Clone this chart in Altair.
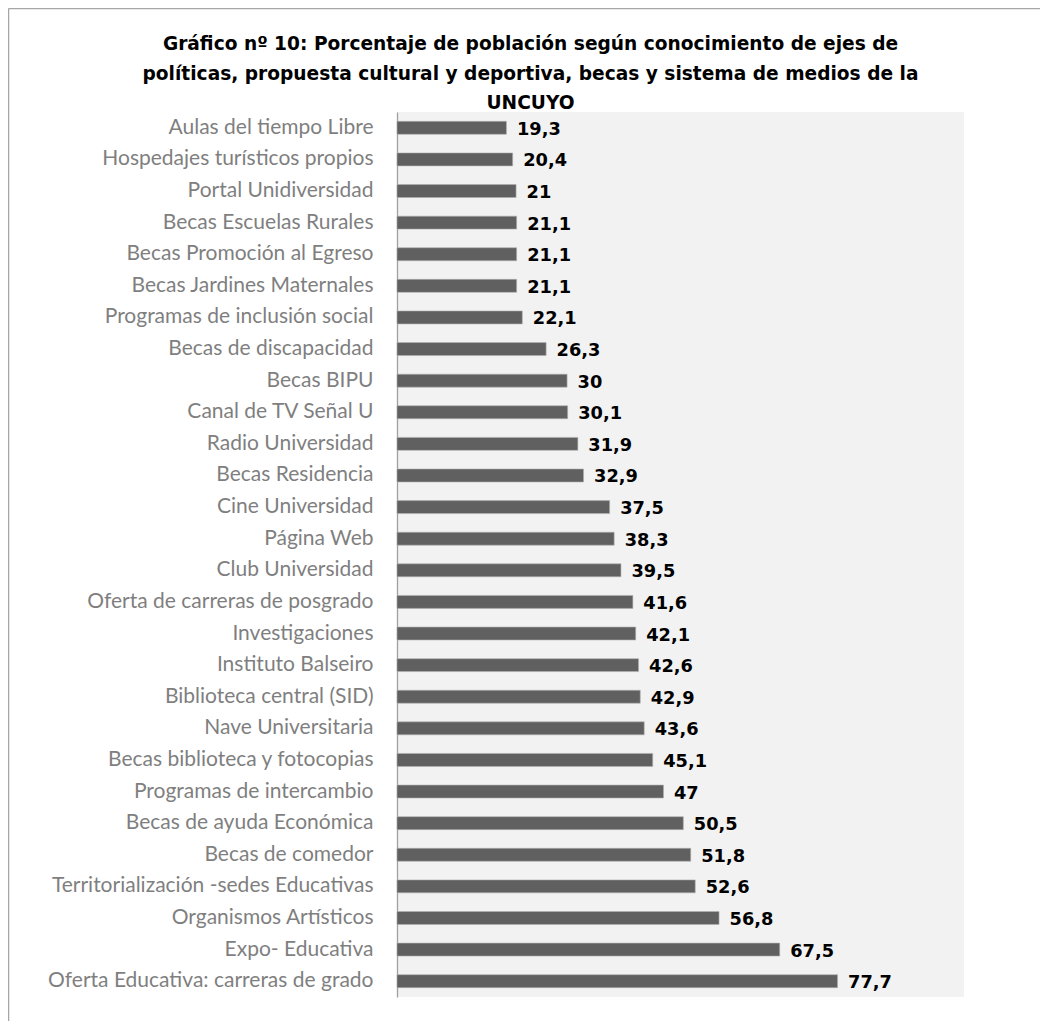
import altair as alt
import pandas as pd

categories = [
    "Aulas del tiempo Libre",
    "Hospedajes turísticos propios",
    "Portal Unidiversidad",
    "Becas Escuelas Rurales",
    "Becas  Promoción al Egreso",
    "Becas Jardines Maternales ",
    "Programas de inclusión social",
    "Becas de discapacidad",
    "Becas BIPU",
    "Canal de TV Señal U",
    "Radio Universidad",
    "Becas Residencia",
    "Cine Universidad",
    "Página Web",
    "Club Universidad",
    "Oferta de carreras de posgrado",
    "Investigaciones",
    "Instituto Balseiro",
    "Biblioteca central (SID)",
    "Nave Universitaria",
    "Becas biblioteca y fotocopias",
    "Programas de intercambio",
    "Becas de ayuda Económica ",
    "Becas de comedor",
    "Territorialización -sedes Educativas",
    "Organismos Artísticos",
    "Expo- Educativa",
    "Oferta Educativa: carreras de grado",
]
values = [19.3, 20.4, 21, 21.1, 21.1, 21.1, 22.1, 26.3, 30, 30.1, 31.9, 32.9,
          37.5, 38.3, 39.5, 41.6, 42.1, 42.6, 42.9, 43.6, 45.1, 47, 50.5, 51.8,
          52.6, 56.8, 67.5, 77.7]
title_lines = [
    "Gráfico nº 10: Porcentaje de población según conocimiento de ejes de",
    "políticas, propuesta cultural y deportiva, becas y sistema de medios de la",
    "UNCUYO",
]

df = pd.DataFrame({
    "cat": categories,
    "val": values,
    "label": [f"{v:g}".replace(".", ",") for v in values],
})

y_enc = alt.Y(
    "cat:N", sort=None, title=None,
    scale=alt.Scale(paddingInner=0.59, paddingOuter=0.295),
    axis=alt.Axis(labelColor="#7f7f7f", labelFontSize=21, labelFont="Lato",
                  labelPadding=24, ticks=False, domainColor="#a0a0a0",
                  domainWidth=1.3, labelLimit=500, grid=False),
)
x_enc = alt.X("val:Q", title=None, axis=None,
              scale=alt.Scale(domain=[0, 100], nice=False, zero=True))

base = alt.Chart(df)

bars = base.mark_bar(color="#606060", stroke="#b0b0b0", strokeWidth=0.6).encode(
    y=y_enc, x=x_enc
)
texts = base.mark_text(align="left", baseline="middle", dx=10.5, dy=2,
                       fontSize=17.8, fontWeight="bold", font="DejaVu Sans",
                       color="#000000").encode(
    y=alt.Y("cat:N", sort=None), x="val:Q", text="label:N"
)

frame = alt.Chart(alt.Data(values=[{"a": 1}]))
top_border = frame.mark_rule(color="#a6a6a6", strokeWidth=1.5).encode(
    x=alt.value(-388.5), x2=alt.value(700), y=alt.value(-103.5)
)
left_border = frame.mark_rule(color="#a6a6a6", strokeWidth=1.5).encode(
    x=alt.value(-388.5), y=alt.value(-103.5), y2=alt.value(1000)
)

chart = alt.layer(bars, texts, top_border, left_border).properties(
    width=567,
    height=885,
    autosize=alt.AutoSizeParams(type="none"),
    padding={"left": 389, "top": 104, "right": 76, "bottom": 30},
    title=alt.TitleParams(
        text=title_lines, anchor="middle", frame="group", dx=-150,
        font="DejaVu Sans", fontSize=18.6, fontWeight="bold", color="#000000",
        lineHeight=29.5, offset=0, baseline="alphabetic", dy=120.25,
    ),
).configure_view(fill="#f2f2f2", stroke=None)

chart.save("out.html", embed_options={"renderer": "svg", "actions": False})
